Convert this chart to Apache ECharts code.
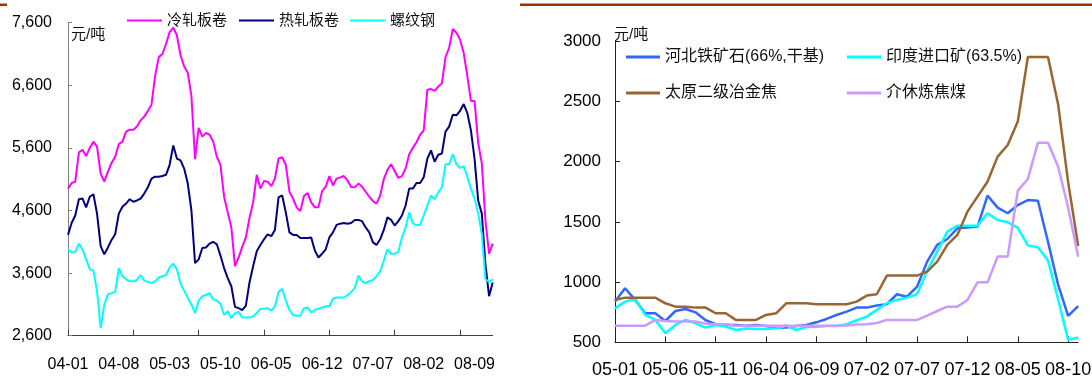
<!DOCTYPE html>
<html>
<head>
<meta charset="utf-8">
<script src="https://cdn.jsdelivr.net/npm/echarts@6/dist/echarts.min.js"></script>
<style>
  html, body { margin: 0; padding: 0; background: #ffffff; }
  #chart { width: 1092px; height: 377px; }
</style>
</head>
<body>
<div id="chart"></div>
<script>
// ---- Steel prices, half-monthly from 2004-01 (元/吨) ----
const coldRolled = [
  4950, 5040, 5060, 5530, 5570, 5470, 5600, 5700, 5620, 5190,
  5060, 5220, 5360, 5460, 5660, 5700, 5860, 5890, 5890, 5940,
  6040, 6100, 6190, 6290, 6750, 7050, 7100, 7260, 7450, 7520,
  7400, 7080, 6900, 6800, 6430, 5420, 5920, 5780, 5840, 5810,
  5700, 5460, 5330, 4820, 4570, 4330, 3710, 3850, 4020, 4170,
  4480, 4730, 5170, 4950, 5070, 5060, 4990, 5110, 5430, 5450,
  5330, 4900, 4790, 4650, 4590, 4830, 4880, 4730, 4650, 4650,
  4910, 4980, 5150, 5000, 5110, 5130, 5150, 5080, 4975, 4970,
  5030, 4980, 4900, 4820, 4750, 4710, 4840, 5100, 5250, 5340,
  5230, 5120, 5150, 5270, 5500, 5600, 5690, 5810, 5880, 6530,
  6540, 6510, 6580, 6630, 7050, 7200, 7500, 7440, 7330, 7120,
  6750, 6350, 6350, 5680, 5350, 4440, 3910, 4070
];
const hotRolled = [
  4210, 4400, 4520, 4780, 4790, 4650, 4820, 4860, 4550, 4030,
  3900, 4010, 4130, 4220, 4550, 4660, 4710, 4780, 4740, 4760,
  4790, 4870, 4970, 5110, 5140, 5140, 5150, 5170, 5330, 5640,
  5430, 5400, 5270, 5030, 4600, 3760, 3820, 4000, 4010, 4070,
  4100, 4060, 3880, 3680, 3520, 3390, 3060, 3040, 3010, 3080,
  3450, 3710, 3950, 4050, 4140, 4220, 4190, 4290, 4810, 4840,
  4570, 4250, 4210, 4210, 4160, 4160, 4160, 4170, 3960, 3850,
  3910, 3980, 4170, 4250, 4370, 4390, 4400, 4390, 4400, 4450,
  4450, 4430, 4330, 4250, 4090, 4050, 4140, 4290, 4490, 4450,
  4360, 4430, 4520, 4680, 4950, 4950, 5040, 5040, 5130, 5430,
  5560, 5380, 5490, 5510, 5860, 5940, 6130, 6120, 6190, 6300,
  6160, 5880, 5430, 4760, 4550, 3740, 3230, 3450
];
const rebar = [
  3980, 3930, 3940, 4070, 3980, 3820, 3660, 3640, 3310, 2720,
  3100, 3260, 3280, 3300, 3680, 3550, 3500, 3470, 3470, 3490,
  3570, 3480, 3460, 3440, 3470, 3530, 3550, 3570, 3690, 3750,
  3660, 3430, 3320, 3200, 3100, 2960, 3160, 3230, 3250, 3280,
  3180, 3160, 3110, 2930, 2990, 2880, 2960, 2980, 2890, 2890,
  2890, 2910, 2960, 3030, 3030, 3040, 3000, 3070, 3300, 3350,
  3160, 3010, 2930, 2920, 2920, 3040, 3050, 2970, 3010, 3030,
  3050, 3070, 3070, 3190, 3210, 3210, 3210, 3245, 3300, 3360,
  3560, 3470, 3440, 3470, 3490, 3550, 3630, 3800, 3980, 3910,
  3910, 3940, 4170, 4330, 4570, 4390, 4370, 4370, 4520, 4680,
  4840, 4780, 4890, 4970, 5340, 5340, 5500, 5340, 5280, 5310,
  5140, 4950, 4790, 4550, 4220, 3500, 3460, 3500
];
const steelTicks = [2600, 3600, 4600, 5600, 6600, 7600];

// ---- Raw materials, monthly from 2005-01 (元/吨) ----
const oreHebei = [
  838, 949, 852, 741, 741, 677, 760, 777, 749, 683, 650, 644, 644, 638,
  644, 636, 622, 622, 636, 644, 666, 694, 727, 755, 788, 788, 805, 816,
  899, 879, 962, 1170, 1309, 1358, 1447, 1453, 1461, 1718, 1619, 1572, 1640, 1681,
  1676, 1335, 980, 720, 800
];
const oreIndia = [
  782, 838, 860, 727, 686, 575, 644, 686, 658, 622, 644, 630, 602, 614,
  611, 611, 616, 638, 602, 627, 630, 636, 636, 650, 683, 713, 769, 825,
  852, 871, 899, 1093, 1253, 1419, 1469, 1469, 1469, 1572, 1516, 1497, 1450, 1305,
  1290, 1180, 860, 520, 540
];
const cokeTaiyuan = [
  852, 871, 871, 871, 871, 824, 796, 796, 788, 788, 741, 741, 686, 686,
  686, 727, 741, 824, 824, 824, 816, 816, 816, 816, 838, 888, 899, 1054,
  1054, 1054, 1054, 1087, 1170, 1309, 1392, 1585, 1710, 1835, 2042, 2139, 2333, 2870,
  2870, 2870, 2480, 1830, 1300
];
const coalJiexiu = [
  638, 638, 638, 638, 686, 677, 672, 672, 672, 655, 650, 650, 638, 638,
  638, 638, 638, 638, 638, 638, 638, 638, 638, 640, 648, 650, 660, 686,
  686, 686, 686, 722, 760, 796, 796, 852, 998, 998, 1212, 1212, 1760, 1855,
  2158, 2158, 1960, 1620, 1210
];

// Date categories: "YY-MM-DD" half-months for steel, "YY-MM" months for raw materials
function halfMonthCats(startYear, count) {
  const out = [];
  for (let i = 0; i < count; i++) {
    const m = Math.floor(i / 2);
    const yy = String((startYear + Math.floor(m / 12)) % 100).padStart(2, '0');
    const mm = String(m % 12 + 1).padStart(2, '0');
    out.push(yy + '-' + mm + '-' + (i % 2 ? '16' : '01'));
  }
  return out;
}
function monthCats(startYear, count) {
  const out = [];
  for (let m = 0; m < count; m++) {
    const yy = String((startYear + Math.floor(m / 12)) % 100).padStart(2, '0');
    const mm = String(m % 12 + 1).padStart(2, '0');
    out.push(yy + '-' + mm);
  }
  return out;
}
const steelDates = halfMonthCats(2004, coldRolled.length);
const rawDates = monthCats(2005, oreHebei.length);

const LATIN = '"Liberation Sans", Arial, "Noto Sans CJK SC", sans-serif';
const CJK = '"Liberation Sans", "Noto Sans CJK SC", sans-serif';

// One legend per entry so each swatch sits at its own spot; swatch is a thin bar
function legendAt(name, left, top, width, thick, size) {
  return {
    data: [name], left: left, top: top, padding: 0, itemGap: 0,
    icon: 'rect', itemWidth: width, itemHeight: thick, selectedMode: false,
    itemStyle: { borderWidth: 0 },
    textStyle: { fontSize: size, fontFamily: CJK, color: '#111' }
  };
}

function line(name, data, color, width, axis) {
  return {
    name: name, type: 'line', data: data, color: color,
    xAxisIndex: axis, yAxisIndex: axis,
    symbol: 'none', smooth: false, animation: false,
    lineStyle: { width: width, color: color }
  };
}

const chart = echarts.init(document.getElementById('chart'), null, { renderer: 'canvas' });
chart.setOption({
  animation: false,
  backgroundColor: '#ffffff',
  textStyle: { fontFamily: LATIN },
  grid: [
    { left: 68, top: 22.7, width: 424.7, height: 313, outerBoundsMode: 'none' },
    { left: 615, top: 41.3, width: 463.2, height: 301, outerBoundsMode: 'none' }
  ],
  legend: [
    legendAt('冷轧板卷', 127, 13, 35, 2, 15),
    legendAt('热轧板卷', 239, 13, 35, 2, 15),
    legendAt('螺纹钢', 350, 13, 35, 2, 15),
    legendAt('河北铁矿石(66%,干基)', 626, 49, 34, 3, 16),
    legendAt('印度进口矿(63.5%)', 847, 49, 34, 3, 16),
    legendAt('太原二级冶金焦', 626, 85, 34, 3, 16),
    legendAt('介休炼焦煤', 847, 85, 34, 3, 16)
  ],
  xAxis: [
    {
      type: 'category', gridIndex: 0, data: steelDates, boundaryGap: false,
      axisLine: { lineStyle: { color: '#404040', width: 1 } },
      axisTick: { inside: true, length: 6, interval: (i) => i % 18 === 0,
                  lineStyle: { color: '#404040' } },
      axisLabel: { interval: (i) => i % 14 === 0, formatter: (v) => v.slice(0, 5),
                   margin: 21, fontSize: 16, color: '#000', fontFamily: LATIN },
      splitLine: { show: false }
    },
    {
      type: 'category', gridIndex: 1, data: rawDates, boundaryGap: false,
      axisLine: { lineStyle: { color: '#222', width: 1 } },
      axisTick: { inside: true, length: 6, interval: (i) => i % 5 === 0,
                  lineStyle: { color: '#222' } },
      axisLabel: { interval: (i) => i % 5 === 0, margin: 19, fontSize: 18,
                   color: '#000', fontFamily: LATIN },
      splitLine: { show: false }
    }
  ],
  yAxis: [
    {
      type: 'value', gridIndex: 0, min: 2600, max: 7600,
      axisLine: { show: true, lineStyle: { color: '#808080', width: 1 } },
      axisTick: { show: true, inside: true, length: 4, customValues: steelTicks,
                  lineStyle: { color: '#808080' } },
      axisLabel: { customValues: steelTicks, margin: 16, fontSize: 16, color: '#000',
                   fontFamily: LATIN,
                   formatter: (v) => String(v).replace(/\B(?=(\d{3})+$)/g, ',') },
      splitLine: { show: false }
    },
    {
      type: 'value', gridIndex: 1, min: 500, max: 3000, interval: 500,
      axisLine: { show: true, lineStyle: { color: '#222', width: 1 } },
      axisTick: { show: true, inside: true, length: 5, lineStyle: { color: '#222' } },
      axisLabel: { margin: 14, fontSize: 17, color: '#000', fontFamily: LATIN,
                   formatter: (v) => String(v) },
      splitLine: { show: false }
    }
  ],
  graphic: [
    { type: 'rect', shape: { x: 0, y: 3.5, width: 7, height: 2.5 }, style: { fill: '#993300' } },
    { type: 'rect', shape: { x: 520, y: 3.5, width: 572, height: 2.5 }, style: { fill: '#993300' } },
    { type: 'text', left: 71, top: 27, style: { text: '元/吨', font: '15px ' + CJK, fill: '#111' } },
    { type: 'text', left: 614, top: 27, style: { text: '元/吨', font: '15px ' + CJK, fill: '#111' } }
  ],
  series: [
    line('冷轧板卷', coldRolled, '#ff00ff', 2, 0),
    line('热轧板卷', hotRolled, '#000080', 2, 0),
    line('螺纹钢', rebar, '#00ffff', 2, 0),
    line('河北铁矿石(66%,干基)', oreHebei, '#3366ff', 2.5, 1),
    line('印度进口矿(63.5%)', oreIndia, '#00ffff', 2.5, 1),
    line('太原二级冶金焦', cokeTaiyuan, '#996633', 2.5, 1),
    line('介休炼焦煤', coalJiexiu, '#cc99ff', 2.5, 1)
  ]
});
</script>
</body>
</html>
